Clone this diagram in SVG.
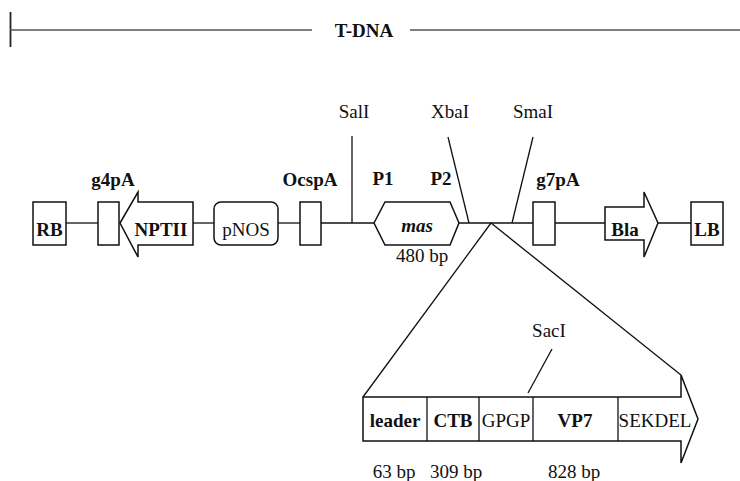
<svg xmlns="http://www.w3.org/2000/svg" width="740" height="481" viewBox="0 0 740 481">
<style>
.ln{stroke:#111;stroke-width:1.3;fill:none}
.bx{stroke:#111;stroke-width:1.5;fill:#fff}
.t{font-family:"Liberation Serif","Times New Roman",serif;font-size:19px;fill:#111;text-anchor:middle}
.b{font-weight:bold}
.i{font-style:italic}
</style>
<rect width="740" height="481" fill="#fff"/>
<g id="tdna">
<line x1="10.5" y1="12" x2="10.5" y2="47" stroke="#222" stroke-width="1.8"/>
<line x1="10" y1="30" x2="312" y2="30" stroke="#555" stroke-width="1.6"/>
<line x1="410" y1="30" x2="740" y2="30" stroke="#555" stroke-width="1.6"/>
<text class="t b" x="364" y="37" font-size="19.5">T-DNA</text>
</g>
<g id="connectors">
<line class="ln" x1="66" y1="223" x2="98" y2="223"/>
<line class="ln" x1="193" y1="223" x2="214" y2="223"/>
<line class="ln" x1="278" y1="223" x2="300" y2="223"/>
<line class="ln" x1="321" y1="223" x2="374" y2="223"/>
<line class="ln" x1="459" y1="223" x2="533" y2="223"/>
<line class="ln" x1="555" y1="223" x2="605" y2="223"/>
<line class="ln" x1="658" y1="223" x2="691" y2="223"/>
<line class="ln" x1="352" y1="136" x2="352" y2="223"/>
<line class="ln" x1="448" y1="137" x2="469" y2="223"/>
<line class="ln" x1="533" y1="137" x2="512" y2="223"/>
<line class="ln" x1="491" y1="223" x2="363" y2="397"/>
<line class="ln" x1="491" y1="223" x2="681" y2="375"/>
<line class="ln" x1="552" y1="349" x2="528" y2="393"/>
</g>
<g id="RB"><rect class="bx" x="33" y="202" width="33" height="43"/><text class="t b" x="49.5" y="236">RB</text></g>
<g id="g4pA"><rect class="bx" x="98" y="202" width="21" height="43"/><text class="t b" x="113" y="186">g4pA</text></g>
<g id="NPTII"><polygon class="bx" points="120,223 138,192 138,202 193,202 193,245 138,245 138,257"/><text class="t b" x="161" y="236">NPTII</text></g>
<g id="pNOS"><rect class="bx" x="214" y="202" width="64" height="43" rx="7"/><text class="t" x="246" y="236">pNOS</text></g>
<g id="OcspA"><rect class="bx" x="300" y="202" width="21" height="43"/><text class="t b" x="310" y="186">OcspA</text></g>
<g id="SalI"><text class="t" x="354" y="118">SalI</text></g>
<g id="mas"><polygon class="bx" points="374,223 385,202 450,202 459,223 450,245 385,245"/><text class="t b i" x="417" y="232">mas</text>
<text class="t b" x="383" y="185">P1</text><text class="t b" x="441" y="185">P2</text>
<text class="t" x="422" y="262">480 bp</text></g>
<g id="XbaI"><text class="t" x="450" y="118">XbaI</text></g>
<g id="SmaI"><text class="t" x="533" y="118">SmaI</text></g>
<g id="g7pA"><rect class="bx" x="533" y="202" width="22" height="43"/><text class="t b" x="558" y="186">g7pA</text></g>
<g id="Bla"><polygon class="bx" points="605,207 644,207 644,192 658,223 644,257 644,240 605,240"/><text class="t b" x="625" y="236">Bla</text></g>
<g id="LB"><rect class="bx" x="691" y="202" width="32" height="43"/><text class="t b" x="707" y="236">LB</text></g>
<g id="construct">
<polygon class="bx" points="363,397 681,397 681,375 698,419 681,463 681,441 363,441"/>
<line class="ln" x1="427" y1="397" x2="427" y2="441"/>
<line class="ln" x1="479" y1="397" x2="479" y2="441"/>
<line class="ln" x1="533" y1="397" x2="533" y2="441"/>
<line class="ln" x1="618" y1="397" x2="618" y2="441"/>
<text class="t b" x="395" y="427">leader</text>
<text class="t b" x="453" y="427">CTB</text>
<text class="t" x="506" y="427">GPGP</text>
<text class="t b" x="575" y="427">VP7</text>
<text class="t" x="655" y="427">SEKDEL</text>
</g>
<g id="SacI"><text class="t" x="549" y="337">SacI</text></g>
<g id="sizes">
<text class="t" x="394" y="478">63 bp</text>
<text class="t" x="456" y="478">309 bp</text>
<text class="t" x="574" y="478">828 bp</text>
</g>
</svg>
